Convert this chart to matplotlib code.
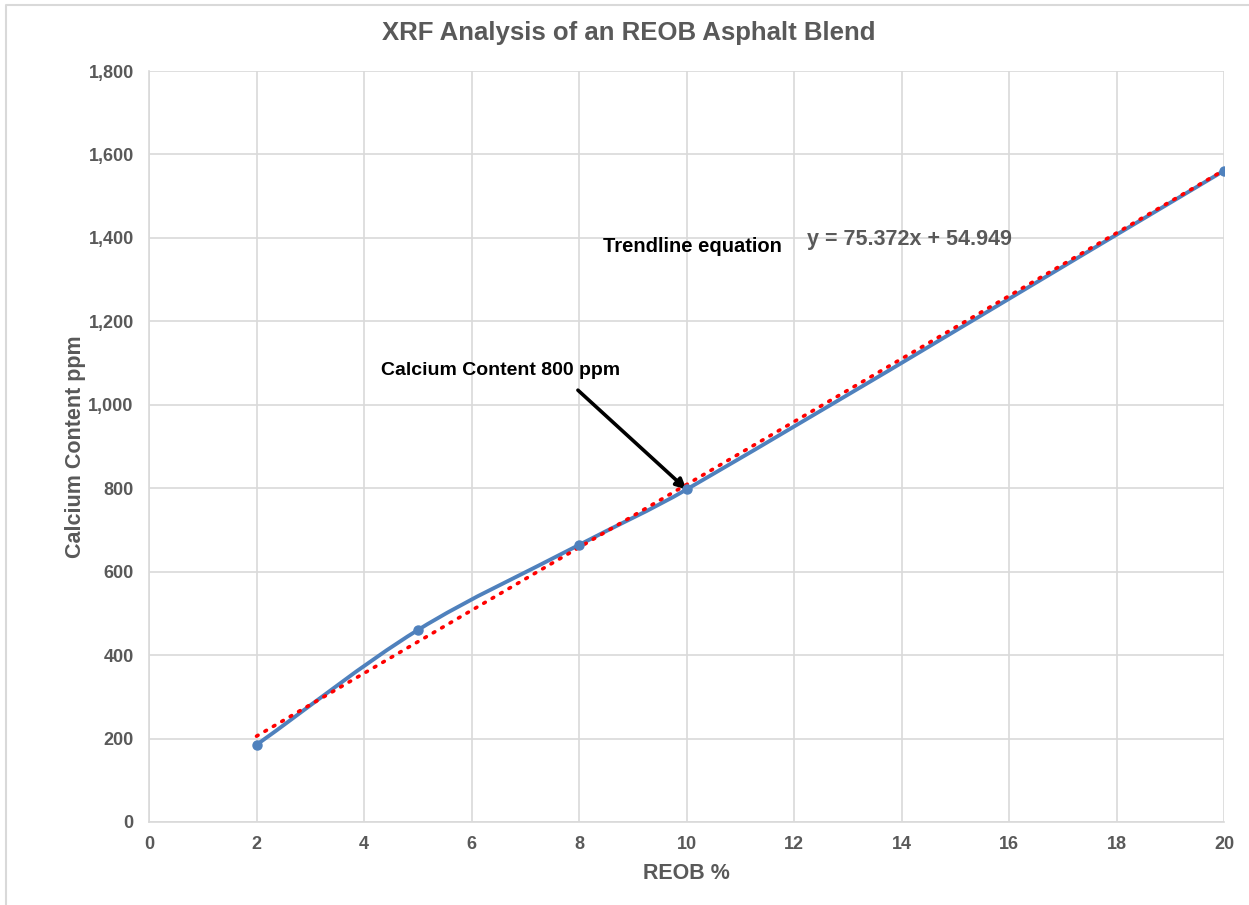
import matplotlib
matplotlib.use("Agg")
import matplotlib.pyplot as plt
from matplotlib.path import Path
from matplotlib.patches import PathPatch
from matplotlib.lines import Line2D
import numpy as np

plt.rcParams['font.family'] = ['Liberation Sans', 'DejaVu Sans']

# ---- data ----
reob_pct = [2, 5, 8, 10, 20]
calcium_ppm = [185, 460, 664, 797, 1561]
trend_slope = 75.372
trend_intercept = 54.949
x_ticks = [0, 2, 4, 6, 8, 10, 12, 14, 16, 18, 20]
y_ticks = [0, 200, 400, 600, 800, 1000, 1200, 1400, 1600, 1800]
y_tick_labels = ["0", "200", "400", "600", "800", "1,000", "1,200", "1,400", "1,600", "1,800"]

title = "XRF Analysis of an REOB Asphalt Blend"
x_label = "REOB %"
y_label = "Calcium Content ppm"
note_text = "Calcium Content 800 ppm"
trend_label = "Trendline equation"
eq_text = "y = 75.372x + 54.949"

W, H = 1249, 905
AX_L, AX_R, AX_T, AX_B = 149, 1224, 71, 822
fig = plt.figure(figsize=(W / 100, H / 100), dpi=100)
ax = fig.add_axes([AX_L / W, 1 - AX_B / H, (AX_R - AX_L) / W, (AX_B - AX_T) / H])

grid_c = "#d9d9d9"
text_c = "#595959"
line_c = "#4f81bd"

xmin, xmax, ymin, ymax = 0, 20, 0, 1800
ax.set_xlim(xmin, xmax)
ax.set_ylim(ymin, ymax)
ax.set_xticks(x_ticks)
ax.set_yticks(y_ticks)
ax.set_yticklabels(y_tick_labels)
ax.grid(True, color=grid_c, linewidth=1.2)
ax.set_axisbelow(True)
for s in ["top", "right"]:
    ax.spines[s].set_visible(False)
for s in ["left", "bottom"]:
    ax.spines[s].set_color(grid_c)
    ax.spines[s].set_linewidth(1.2)
ax.tick_params(length=0, labelsize=13, labelcolor=text_c)
ax.tick_params(axis="y", pad=11)
ax.tick_params(axis="x", pad=10)
for lab in ax.get_xticklabels() + ax.get_yticklabels():
    lab.set_fontweight("bold")

# trendline (linear, red dotted)
tx = np.array([reob_pct[0], reob_pct[-1]], dtype=float)
ax.plot(tx, trend_slope * tx + trend_intercept, color="#ff0000",
        linestyle=(0, (0.5, 2.2)), linewidth=2.6, dash_capstyle="round", zorder=4)

# smoothed series line (Excel-like Bezier smoothing, chord-length scaled)
px = np.array(reob_pct, dtype=float)
py = np.array(calcium_ppm, dtype=float)
sx = (AX_R - AX_L) / (xmax - xmin)
sy = (AX_B - AX_T) / (ymax - ymin)
n = len(px)

def dist(a, b):
    return np.hypot((px[b] - px[a]) * sx, (py[b] - py[a]) * sy)

verts = [(px[0], py[0])]
codes = [Path.MOVETO]
for i in range(n - 1):
    i0, i3 = max(i - 1, 0), min(i + 2, n - 1)
    p0 = np.array([px[i0], py[i0]])
    p1 = np.array([px[i], py[i]])
    p2 = np.array([px[i + 1], py[i + 1]])
    p3 = np.array([px[i3], py[i3]])
    d12 = dist(i, i + 1)
    d01 = dist(i0, i)
    d23 = dist(i + 1, i3)
    c1 = p1 + (p2 - p0) * d12 / (d01 + d12) / 3.0
    c2 = p2 - (p3 - p1) * d12 / (d12 + d23) / 3.0
    verts += [tuple(c1), tuple(c2), tuple(p2)]
    codes += [Path.CURVE4] * 3
ax.add_patch(PathPatch(Path(verts, codes), facecolor="none", edgecolor=line_c,
                       linewidth=2.8, capstyle="round", zorder=3))
ax.plot(reob_pct, calcium_ppm, linestyle="none", marker="o", markersize=6.5,
        color=line_c, zorder=5)

# labels
fig.text(629 / W, 1 - 33 / H, title, ha="center", va="center", fontsize=18.5,
         fontweight="bold", color=text_c)
ax.set_xlabel(x_label, fontsize=15.5, fontweight="bold", color=text_c, labelpad=7)
ax.set_ylabel(y_label, fontsize=15.5, fontweight="bold", color=text_c, labelpad=2)

# annotations
ax.text(4.32, 1083, note_text, ha="left", va="center", fontsize=14,
        fontweight="bold", color="black")
ax.annotate("", xy=(10.0, 797), xytext=(7.98, 1035),
            arrowprops=dict(arrowstyle="-|>,head_length=0.6,head_width=0.3",
                            color="black", lw=2.6, shrinkA=0, shrinkB=0))
ax.text(8.45, 1380, trend_label, ha="left", va="center", fontsize=14.5,
        fontweight="bold", color="black")
ax.text(12.24, 1397, eq_text, ha="left", va="center", fontsize=15.5,
        fontweight="bold", color=text_c)

# figure border (top & left visible)
fig.add_artist(Line2D([6 / W, 6 / W, 1.0], [0.0, 1 - 5 / H, 1 - 5 / H],
                      transform=fig.transFigure, color="#d9d9d9", linewidth=1.5))

fig.savefig("out.png", dpi=100, facecolor="white")
